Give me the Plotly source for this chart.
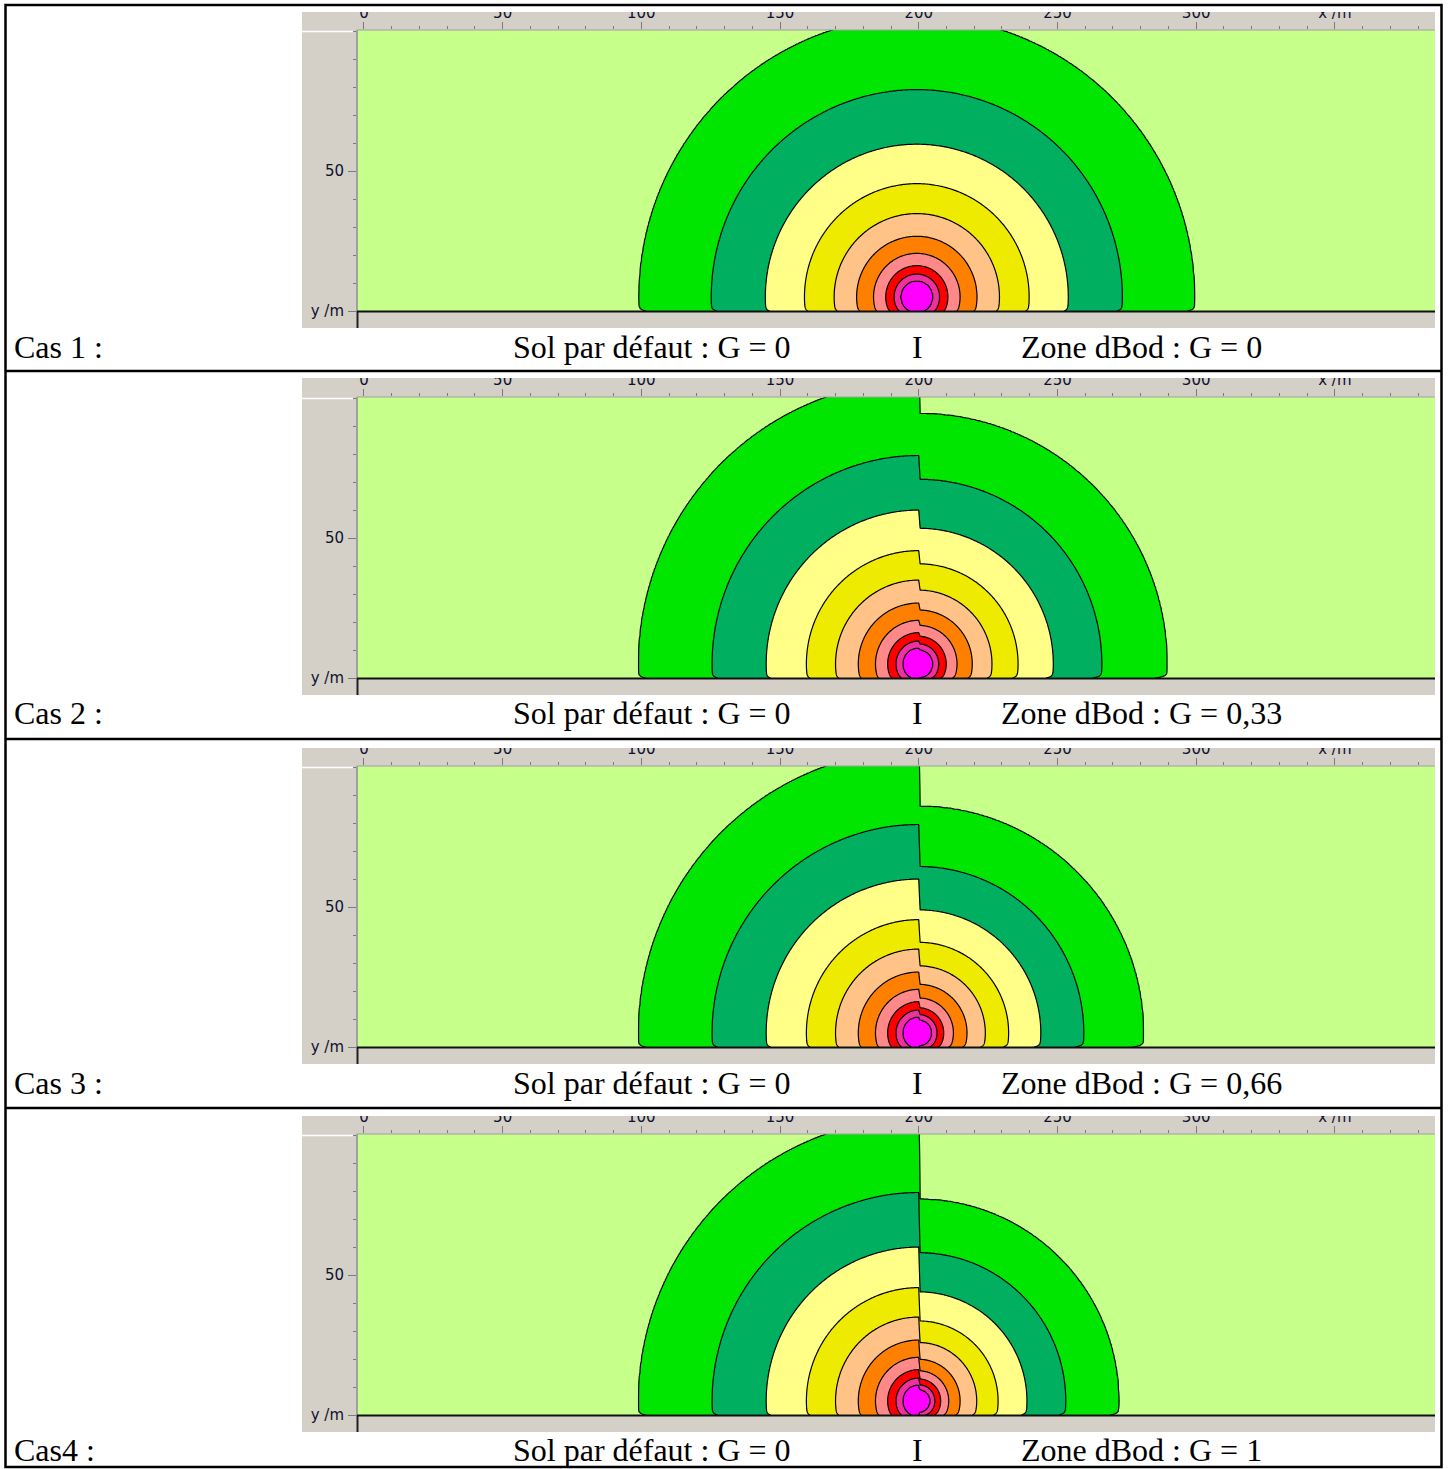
import numpy as np
import plotly.graph_objects as go

W = 1449
LAYOUT_H = 1469          # height of the page layout grid used for positions
FIG_H = 1478             # figure height in px

# Fill colours of the noise bands, from the far field (background) to the source
band_colors = ["#C6FF8A", "#00E600", "#00B060", "#FFFF88", "#EEEA00",
               "#FFC388", "#FF8000", "#FF8888", "#FF0000", "#F0309C", "#FF00FF"]

# Radius (m) of each band boundary around the source, default ground G = 0 (x <= 200 m)
radii_default = [101.0, 74.5, 55.0, 40.5, 30.0, 21.8, 15.6, 11.2, 8.2, 5.8]
# Band boundaries on the default-ground side for each case
radii_left_cas1 = [100.1, 74.1, 54.6, 40.5, 29.8, 21.7, 15.6, 11.2, 8.2, 5.8]
radii_left = [radii_left_cas1, radii_default, radii_default, radii_default]
# Band boundaries inside the dBod zone (x > 200 m) for each case
radii_zone_cas1 = [100.1, 74.1, 54.6, 40.5, 29.8, 21.7, 15.6, 11.2, 8.2, 5.8]
radii_zone_cas2 = [89.5, 66.0, 48.5, 35.8, 26.4, 19.3, 13.8, 9.9, 7.2, 5.1]
radii_zone_cas3 = [81.0, 59.5, 44.0, 32.4, 24.0, 17.4, 12.5, 9.0, 6.6, 4.7]
radii_zone_cas4 = [72.1, 53.0, 39.0, 28.6, 20.9, 14.9, 10.8, 7.9, 5.8, 4.1]
radii_zone = [radii_zone_cas1, radii_zone_cas2, radii_zone_cas3, radii_zone_cas4]

# source position (m) and the start of the dBod zone
source_x = [199.3, 200.0, 200.0, 200.0]
source_y = 5.0
zone_start_x = 200.0
# relative shrink of the bands right at the ground (default side, zone side)
ground_dip_default = 0.025
ground_dip_zone = [0.025, 0.05, 0.05, 0.045]
ground_dip_height = 0.5

case_labels = ["Cas 1 :", "Cas 2 :", "Cas 3 :", "Cas4 :"]
default_ground_G = ["0", "0", "0", "0"]
zone_ground_G = ["0", "0,33", "0,66", "1"]

x_tickvals = [0, 50, 100, 150, 200, 250, 300, 350]
x_ticktext = ["0", "50", "100", "150", "200", "250", "300", "x /m"]
y_tickvals = [0, 50]
y_ticktext = ["y /m", "50"]

x_range = [-2.5, 386.1]
y_range = [0, 100.4]

# pixel layout of each table row: (grey top, plot top, ground, grey bottom, text centre)
rows_px = [
    (12, 30, 311, 328, 347),
    (378, 397, 678, 695, 713),
    (748, 766, 1047, 1064, 1083),
    (1116, 1134, 1415, 1432, 1450),
]
row_tops = [5, 371, 739, 1108]
table_bottom = 1467
panel_x0, plot_x0, plot_x1 = 302, 357, 1435

# computation grid: fine around the source and near the ground, coarse in the far field
xg = np.concatenate([np.arange(-3, 94, 2.0), np.arange(94, 306, 0.5), np.arange(306, 390, 2.0)])
yg = np.concatenate([np.arange(0, 3, 0.15), np.arange(3, 101.5, 0.5)])


def band_level(d, radii):
    """Continuous band index as a function of distance to the source."""
    rr = np.array([1e4] + list(radii) + [1e-3])
    idx = np.array([-5.0] + [i + 0.5 for i in range(len(radii))] + [len(radii) + 5.0])
    return np.interp(np.log(np.maximum(d, 1e-3)), np.log(rr[::-1]), idx[::-1])


def band_field(i):
    X, Y = np.meshgrid(xg, yg)
    d = np.hypot(X - source_x[i], Y - source_y)
    in_zone = X > zone_start_x
    dip = np.where(in_zone, ground_dip_zone[i], ground_dip_default)
    d = d * (1 + dip * np.exp(-Y / ground_dip_height))
    z = np.where(in_zone, band_level(d, radii_zone[i]), band_level(d, radii_left[i]))
    return np.round(z, 3)


def px(x):
    return x / W


def py(y):
    return 1 - y / LAYOUT_H


colorscale = [[k / (len(band_colors) - 1), c] for k, c in enumerate(band_colors)]
tick_font = dict(family="DejaVu Sans", size=15, color="#10102e")
tick_grey = "#7a7a7a"

fig = go.Figure()
shapes = []
annotations = []

for i, (g_top, p_top, ground, g_bot, text_y) in enumerate(rows_px):
    n = i + 1
    xa, ya = ("x" if n == 1 else f"x{n}"), ("y" if n == 1 else f"y{n}")
    fig.add_trace(go.Contour(
        x=xg, y=yg, z=band_field(i),
        xaxis=xa, yaxis=ya,
        autocontour=False,
        contours=dict(start=0.5, end=9.5, size=1, coloring="fill", showlines=True),
        colorscale=colorscale, zmin=0, zmax=10,
        line=dict(color="black", width=1.2, smoothing=0),
        showscale=False, hoverinfo="skip",
    ))
    fig.layout[f"xaxis{'' if n == 1 else n}"] = dict(
        domain=[px(plot_x0), px(plot_x1)], range=x_range, anchor=ya, side="top",
        tickmode="array", tickvals=x_tickvals, ticktext=x_ticktext,
        ticks="outside", ticklen=7, tickwidth=1, tickcolor=tick_grey,
        tickfont=tick_font, ticklabelstandoff=-2,
        minor=dict(tickmode="linear", tick0=0, dtick=10, ticks="outside",
                   ticklen=3, tickwidth=1, tickcolor=tick_grey),
        showgrid=False, zeroline=False, showline=False, fixedrange=True,
    )
    fig.layout[f"yaxis{'' if n == 1 else n}"] = dict(
        domain=[py(ground), py(p_top)], range=y_range, anchor=xa,
        tickmode="array", tickvals=y_tickvals, ticktext=y_ticktext,
        ticks="outside", ticklen=8, tickwidth=1, tickcolor=tick_grey,
        tickfont=tick_font, ticklabelstandoff=1,
        minor=dict(tickmode="linear", tick0=0, dtick=10, ticks="outside",
                   ticklen=3, tickwidth=1, tickcolor=tick_grey),
        showgrid=False, zeroline=False, showline=False, fixedrange=True,
    )

    # grey frame of the map window
    shapes.append(dict(type="rect", xref="paper", yref="paper", layer="below",
                       x0=px(panel_x0), x1=px(plot_x1), y0=py(g_bot), y1=py(g_top),
                       fillcolor="#D4D0C8", line=dict(width=0)))
    # plot border lines
    shapes.append(dict(type="line", xref="paper", yref="paper", layer="above",
                       x0=px(plot_x0), x1=px(plot_x1), y0=py(p_top), y1=py(p_top),
                       line=dict(color="#a0a0a0", width=1)))
    shapes.append(dict(type="line", xref="paper", yref="paper", layer="above",
                       x0=px(panel_x0), x1=px(plot_x0 - 4), y0=py(p_top + 1.5), y1=py(p_top + 1.5),
                       line=dict(color="white", width=1.5)))
    shapes.append(dict(type="line", xref="paper", yref="paper", layer="above",
                       x0=px(plot_x0), x1=px(plot_x0), y0=py(ground), y1=py(p_top),
                       line=dict(color="#a0a0a0", width=2)))
    shapes.append(dict(type="line", xref="paper", yref="paper", layer="above",
                       x0=px(plot_x0 + 0.5), x1=px(plot_x0 + 0.5), y0=py(g_bot), y1=py(ground),
                       line=dict(color="#202020", width=2)))
    shapes.append(dict(type="line", xref="paper", yref="paper", layer="above",
                       x0=px(plot_x0), x1=px(plot_x1), y0=py(ground + 0.5), y1=py(ground + 0.5),
                       line=dict(color="#101010", width=2)))
    # white strip above the window (the window is cropped at its top)
    shapes.append(dict(type="rect", xref="paper", yref="paper", layer="above",
                       x0=px(6), x1=px(1440), y0=py(g_top), y1=py(row_tops[i]),
                       fillcolor="white", line=dict(width=0)))

    serif = dict(family="Liberation Serif", size=32, color="black")
    annotations += [
        dict(x=px(12), y=py(text_y), xref="paper", yref="paper", xanchor="left",
             yanchor="middle", text=case_labels[i], showarrow=False, font=serif),
        dict(x=px(652), y=py(text_y), xref="paper", yref="paper", xanchor="center",
             yanchor="middle", text=f"Sol par défaut : G = {default_ground_G[i]}",
             showarrow=False, font=serif),
        dict(x=px(917), y=py(text_y), xref="paper", yref="paper", xanchor="center",
             yanchor="middle", text="I", showarrow=False, font=serif),
        dict(x=px(1141), y=py(text_y), xref="paper", yref="paper", xanchor="center",
             yanchor="middle", text=f"Zone dBod : G = {zone_ground_G[i]}",
             showarrow=False, font=serif),
    ]

# table rules
border = dict(color="black", width=2.5)
shapes.append(dict(type="rect", xref="paper", yref="paper", layer="above",
                   x0=px(5.5), x1=px(1441.5), y0=py(table_bottom), y1=py(5),
                   line=border, fillcolor="rgba(0,0,0,0)"))
for yl in row_tops[1:]:
    shapes.append(dict(type="line", xref="paper", yref="paper", layer="above",
                       x0=px(5.5), x1=px(1441.5), y0=py(yl), y1=py(yl), line=border))

fig.update_layout(
    width=W, height=FIG_H, margin=dict(l=0, r=0, t=0, b=0),
    paper_bgcolor="white", plot_bgcolor="white",
    showlegend=False, shapes=shapes, annotations=annotations,
)

fig.write_html("out.html")
